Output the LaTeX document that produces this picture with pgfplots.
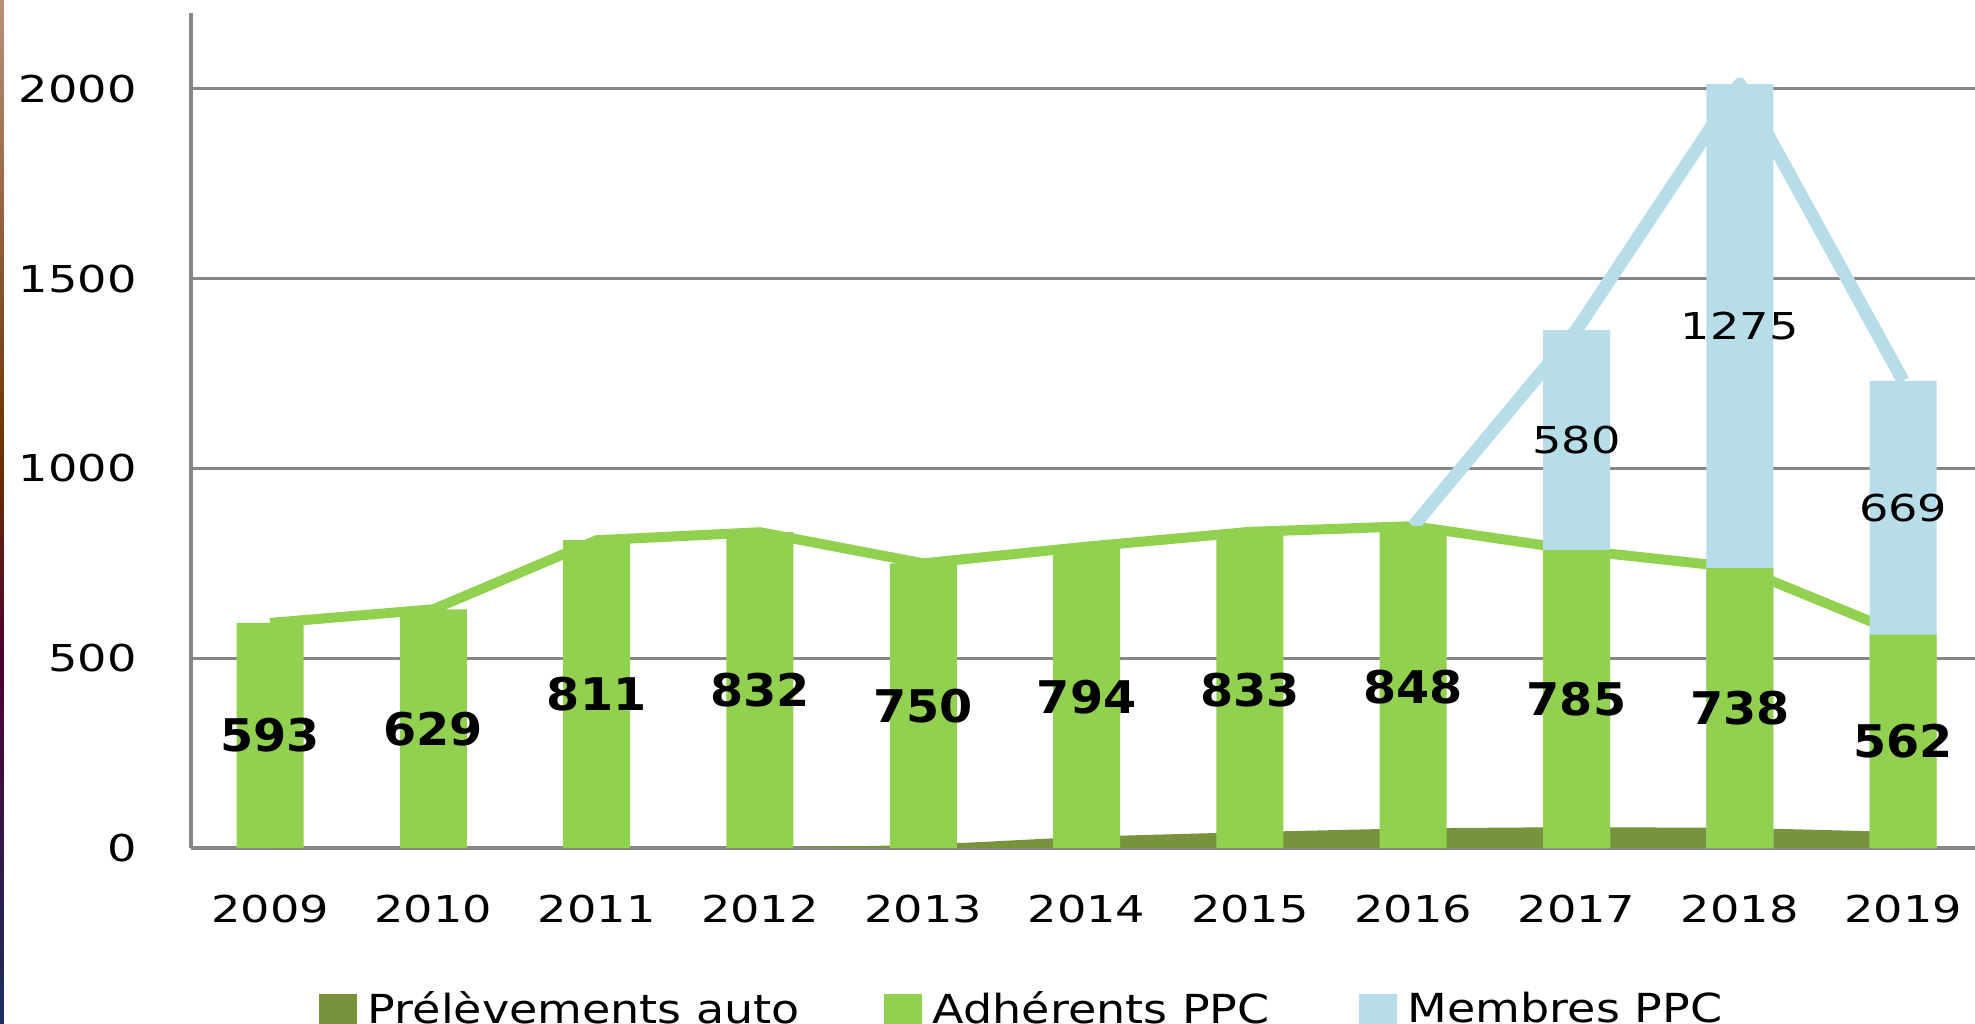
\documentclass[border=0pt]{standalone}
\usepackage{pgfplots}
\pgfplotsset{compat=1.18}
\usepackage{pgfplotstable}
\usepackage{graphicx}
\usepackage{fontspec}
\setmainfont{DejaVu Sans}
\definecolor{adh}{HTML}{92D050}
\definecolor{mem}{HTML}{B7DDE8}
\definecolor{prel}{HTML}{77933C}
\definecolor{gridc}{HTML}{868686}
\definecolor{s1}{HTML}{B8907A}
\definecolor{s2}{HTML}{6B3000}
\definecolor{s3}{HTML}{4E0030}
\definecolor{s4}{HTML}{1C2E60}
\newcommand\sx[1]{\scalebox{1.25}[1]{#1}}
\newcommand\sxb[1]{\scalebox{1.06}[1]{\bfseries #1}}
\newcommand\sxl[1]{\scalebox{1.15}[1]{#1}}

\pgfplotstableread{
x year prel adh
0 2009 0 593
1 2010 0 629
2 2011 0 811
3 2012 0 832
4 2013 8 750
5 2014 30 794
6 2015 42 833
7 2016 52 848
8 2017 55 785
9 2018 53 738
10 2019 42 562
}\data

\pgfplotstableread{
x year adh mem
7 2016 848 0
8 2017 785 580
9 2018 738 1275
10 2019 562 669
}\membres

\begin{document}
\begin{tikzpicture}
\begin{axis}[
  scale only axis, width=892pt, height=417.5pt,
  xmin=-0.484, xmax=10.44, ymin=0, ymax=2200,
  axis lines*=left,
  axis line style={draw=gridc, line width=2pt, -},
  ytick={0,500,1000,1500,2000},
  yticklabels={\sx{0},\sx{500},\sx{1000},\sx{1500},\sx{2000}},
  xtick={0,...,10},
  xticklabels={\sx{2009},\sx{2010},\sx{2011},\sx{2012},\sx{2013},\sx{2014},\sx{2015},\sx{2016},\sx{2017},\sx{2018},\sx{2019}},
  major tick length=0pt,
  ymajorgrids,
  grid style={draw=gridc, line width=1.5pt},
  tick label style={font=\fontsize{18.5}{20}\selectfont, inner sep=0pt},
  yticklabel style={anchor=east, xshift=-27pt},
  xticklabel style={anchor=center, yshift=-30.5pt},
  clip=false,
  legend style={at={(axis description cs:0.0717,-0.172)}, anchor=north west,
    draw=none, fill=none, inner sep=0pt, outer sep=0pt,
    nodes={inner sep=0pt, outer sep=0pt},
    font=\fontsize{20}{22}\selectfont,
    legend columns=3,
    /tikz/every odd column/.append style={column sep=5.5pt},
    /tikz/every even column/.append style={column sep=0pt}},
  legend image code/.code={\fill[#1, draw=none] (0pt,-9.4pt) rectangle (19pt,7.6pt);},
]
% prelevements (area behind bars)
\addplot[fill=prel, draw=none, forget plot] table[x=x, y=prel] {\data} \closedcycle;
% lines
\addplot[adh, line width=5pt, line join=round, forget plot] table[x=x, y=adh] {\data};
\addplot[mem, line width=6.5pt, line join=round, forget plot] table[x=x, y expr=\thisrow{adh}+\thisrow{mem}] {\membres};
% bars
\addplot[ybar, bar width=33.5pt, bar shift=0pt, fill=mem, draw=none, forget plot,
  restrict x to domain=8:10]
  table[x=x, y expr=\thisrow{adh}+\thisrow{mem}] {\membres};
\addplot[ybar, bar width=33.5pt, bar shift=0pt, fill=adh, draw=none, forget plot]
  table[x=x, y=adh] {\data};
% labels
\addplot[draw=none, mark=none, forget plot,
  point meta=explicit symbolic,
  nodes near coords={\sxb{\pgfplotspointmeta}},
  nodes near coords align={center},
  every node near coord/.append style={anchor=center, inner sep=0pt, font=\fontsize{22.5}{24}\selectfont}]
  table[x=x, y expr=\thisrow{adh}/2, meta=adh] {\data};
\addplot[draw=none, mark=none, forget plot,
  restrict x to domain=8:10,
  point meta=explicit symbolic,
  nodes near coords={\sx{\pgfplotspointmeta}},
  nodes near coords align={center},
  every node near coord/.append style={anchor=center, inner sep=0pt, font=\fontsize{18.5}{20}\selectfont}]
  table[x=x, y expr=\thisrow{adh}+\thisrow{mem}/2, meta=mem] {\membres};
% legend
\addlegendimage{fill=prel}
\addlegendentry{\makebox[258pt][l]{\sxl{Prélèvements auto}}}
\addlegendimage{fill=adh}
\addlegendentry{\makebox[213pt][l]{\sxl{Adhérents PPC}}}
\addlegendimage{fill=mem}
\addlegendentry{\sxl{Membres PPC}}
\end{axis}
\shade[top color=s1, bottom color=s2] (-95.5pt,194pt) rectangle (-93.5pt,424pt);
\shade[top color=s2, bottom color=s3] (-95.5pt,97pt) rectangle (-93.5pt,194pt);
\shade[top color=s3, bottom color=s4] (-95.5pt,-87.5pt) rectangle (-93.5pt,97pt);
\pgfresetboundingbox
\useasboundingbox (-95.5pt,-87.5pt) rectangle (892pt,424pt);
\end{tikzpicture}
\end{document}
